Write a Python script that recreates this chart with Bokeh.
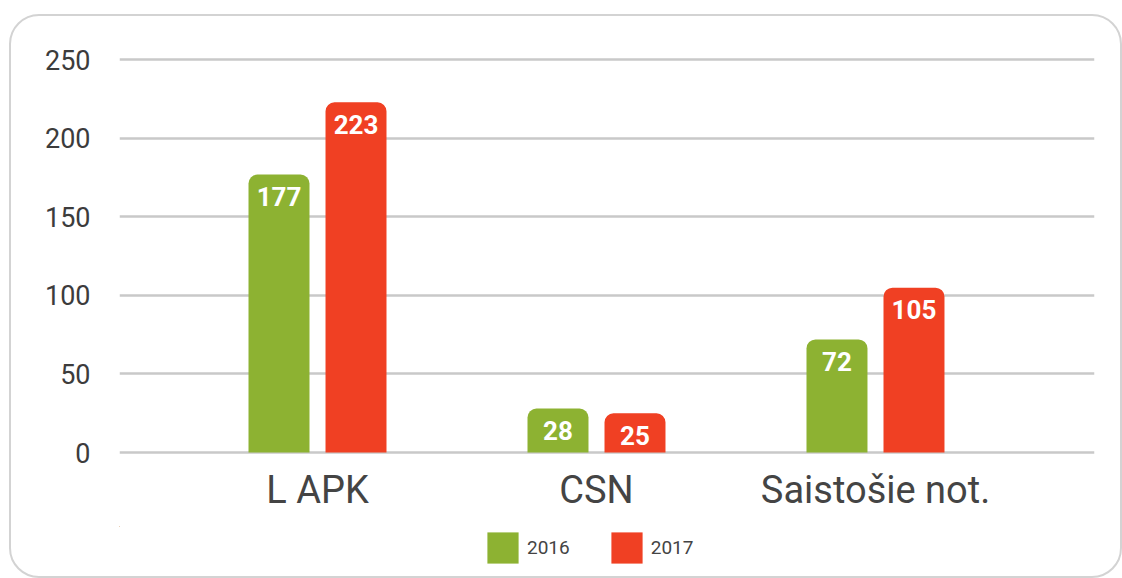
from bokeh.plotting import figure
from bokeh.layouts import column
from bokeh.models import (ColumnDataSource, Range1d, FixedTicker, Legend, LegendItem)
from bokeh.core.properties import value
from bokeh.embed import file_html
from bokeh.resources import INLINE

categories = ["L APK", "CSN", "Saistošie not."]
years = ["2016", "2017"]
values_2016 = [177, 28, 72]
values_2017 = [223, 25, 105]
y_ticks = [0, 50, 100, 150, 200, 250]

GREEN = "#8db232"
RED = "#f04023"
FONT = "Roboto"

xs = list(range(len(categories)))
off = 0.138
bw = 0.2186

src16 = ColumnDataSource(dict(x=[i - off for i in xs], top=values_2016,
                              lab=[str(v) for v in values_2016]))
src17 = ColumnDataSource(dict(x=[i + off for i in xs], top=values_2017,
                              lab=[str(v) for v in values_2017]))

W = 1109
p = figure(width=W, height=510, output_backend="svg", toolbar_location=None,
           x_range=Range1d(-0.7097, 2.785), y_range=Range1d(-1.91, 262.4),
           min_border_left=108, min_border_right=26, min_border_top=24,
           min_border_bottom=71)
p.outline_line_color = None
p.background_fill_color = "white"
p.border_fill_alpha = 0

r16 = p.vbar(x="x", top="top", width=bw, bottom=0, source=src16, fill_color=GREEN,
             line_color=None, border_radius=(9, 9, 0, 0))
r17 = p.vbar(x="x", top="top", width=bw, bottom=0, source=src17, fill_color=RED,
             line_color=None, border_radius=(9, 9, 0, 0))

for s in (src16, src17):
    p.text(x="x", y="top", text="lab", source=s, y_offset=22, text_align="center",
           text_baseline="middle", text_color="white", text_font=value(FONT),
           text_font_style="bold", text_font_size="26px")

p.xgrid.grid_line_color = None
p.ygrid.grid_line_color = "#c9c9c9"
p.ygrid.grid_line_width = 2.5
p.ygrid.ticker = FixedTicker(ticks=y_ticks)

ya = p.yaxis[0]
ya.ticker = FixedTicker(ticks=y_ticks)
ya.axis_line_color = None
ya.major_tick_line_color = None
ya.minor_tick_line_color = None
ya.major_label_standoff = 23
ya.major_label_text_font = FONT
ya.major_label_text_font_size = "27px"
ya.major_label_text_color = "#3c3c3c"

xa = p.xaxis[0]
xa.ticker = FixedTicker(ticks=xs)
xa.major_label_overrides = {i: c for i, c in zip(xs, categories)}
xa.axis_line_color = None
xa.major_tick_line_color = None
xa.minor_tick_line_color = None
xa.major_label_standoff = 6
xa.major_label_text_font = FONT
xa.major_label_text_font_size = "38px"
xa.major_label_text_color = "#444444"

# legend strip
q = figure(width=W, height=50, output_backend="svg", toolbar_location=None,
           x_range=Range1d(10, 11), y_range=Range1d(-1000, -900),
           x_axis_location=None, y_axis_location=None, min_border=0)
q.outline_line_color = None
q.border_fill_alpha = 0
q.background_fill_alpha = 0
q.grid.grid_line_color = None
l16 = q.vbar(x="x", top="top", width=bw, bottom=0, source=src16, fill_color=GREEN,
             line_color=None)
l17 = q.vbar(x="x", top="top", width=bw, bottom=0, source=src17, fill_color=RED,
             line_color=None)
legend = Legend(items=[LegendItem(label=years[0], renderers=[l16]),
                       LegendItem(label=years[1], renderers=[l17])],
                orientation="horizontal", location=(364, 9),
                glyph_width=39, glyph_height=39, spacing=37, label_standoff=5,
                padding=0, margin=0, border_line_color=None,
                background_fill_alpha=0, label_text_font=FONT,
                label_text_font_size="19px", label_text_color="#444444")
q.add_layout(legend)

layout = column(p, q, spacing=0,
                styles={"margin-left": "9px", "margin-top": "14px",
                        "border": "2px solid #d3d3d3", "border-radius": "30px"})

open("out.html", "w").write(file_html(layout, INLINE))
